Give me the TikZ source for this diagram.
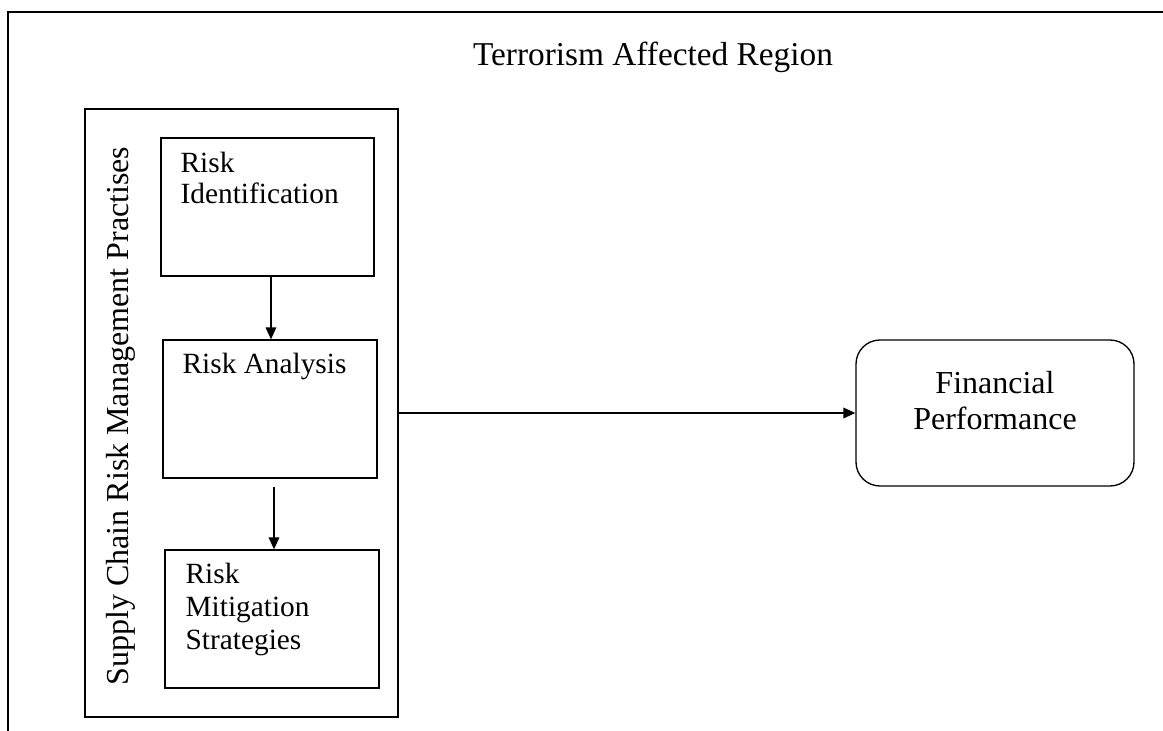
\documentclass[tikz,border=0pt]{standalone}
\usepackage{fontspec}
\setmainfont{Liberation Serif}
\usetikzlibrary{arrows.meta}
\begin{document}
\begin{tikzpicture}[x=0.75pt,y=-0.75pt,
  line width=1pt,
  box/.style={draw, rectangle, inner sep=0pt},
  % multi-line labels are placed by the baseline of their last line
  boxtext/.style={anchor=base west, align=left, inner sep=0pt, font=\fontsize{22}{24}\selectfont},
  arr/.style={-{Triangle[length=9pt,width=8pt]}}
]
\useasboundingbox (0,0) rectangle (1163,731);

% region frame (left and top edges)
\draw (8,731) -- (8,12) -- (1163,12);
\node[anchor=base, inner sep=0pt, font=\fontsize{25}{28}\selectfont] (title) at (653,66) {Terrorism Affected Region};

% practices container
\node[box, minimum width=313*0.75pt, minimum height=608*0.75pt] (scrm) at (241.5,413) {};
\node[rotate=90, anchor=base, inner sep=0pt, font=\fontsize{24}{26}\selectfont] (scrmlabel) at (128,416) {Supply Chain Risk Management Practises};

% three stages
\node[box, minimum width=213*0.75pt, minimum height=138*0.75pt] (ri) at (267.5,207) {};
\node[boxtext] (ritext) at (180,204) {Risk\\Identification};

\node[box, minimum width=214*0.75pt, minimum height=138*0.75pt] (ra) at (270,409) {};
\node[boxtext] (ratext) at (182,373) {Risk Analysis};

\node[box, minimum width=214*0.75pt, minimum height=138*0.75pt] (rm) at (272,619) {};
\node[boxtext, font=\fontsize{22}{24.5}\selectfont] (rmtext) at (185,649) {Risk\\Mitigation\\Strategies};

% outcome
\node[box, rounded corners=18pt, minimum width=278*0.75pt, minimum height=146*0.75pt] (fp) at (995,413) {};
\node[anchor=base, align=center, inner sep=0pt, font=\fontsize{24}{27}\selectfont] (fptext) at (995,429) {Financial\\Performance};

% connectors
\draw[arr] ([xshift=2.6pt]ri.south) -- ([xshift=2.6pt]ri.south |- ra.north);
\draw[arr] ([xshift=3pt,yshift=-6pt]ra.south) -- ([xshift=3pt]ra.south |- rm.north);
\draw[arr] (scrm.east) -- (fp.west);
\end{tikzpicture}
\end{document}
